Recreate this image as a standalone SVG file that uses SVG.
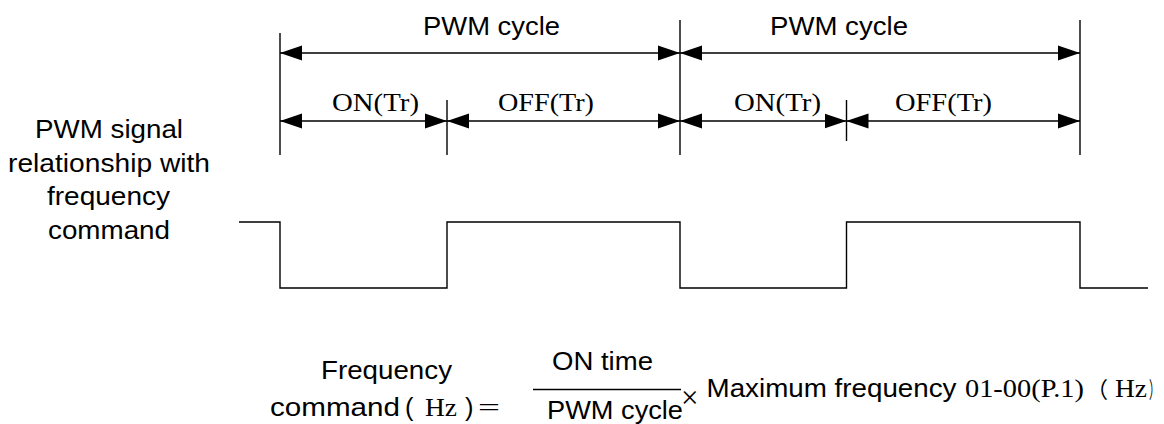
<svg xmlns="http://www.w3.org/2000/svg" width="1164" height="424" viewBox="0 0 1164 424">
<style>
.ln{stroke:#000;stroke-width:1.4;fill:none}
.dim{stroke:#000;stroke-width:1.3;fill:none;marker-start:url(#ah);marker-end:url(#ah)}
.sans{font-family:"Liberation Sans",Arial,sans-serif;font-size:25.5px;fill:#000}
.serif{font-family:"Liberation Serif","Times New Roman",serif;font-size:25.5px;fill:#000}
.cjk{font-family:"Liberation Serif","Noto Sans CJK SC",serif;font-size:22px;fill:#000}
</style>
<defs>
<marker id="ah" viewBox="0 -8 22 16" refX="22" refY="0" markerWidth="22" markerHeight="16" markerUnits="userSpaceOnUse" orient="auto-start-reverse">
<path d="M0,-7.5 L22,0 L0,7.5 Z" fill="#000"/>
</marker>
</defs>
<g id="extension-lines">
<line class="ln" x1="280" y1="33" x2="280" y2="155"/>
<line class="ln" x1="447" y1="100" x2="447" y2="155"/>
<line class="ln" x1="680" y1="20" x2="680" y2="155"/>
<line class="ln" x1="846.5" y1="100" x2="846.5" y2="141"/>
<line class="ln" x1="1080" y1="20" x2="1080" y2="155"/>
</g>
<g id="connectors">
<line class="dim" x1="280" y1="53" x2="680" y2="53"/>
<line class="dim" x1="680" y1="53" x2="1080" y2="53"/>
<line class="dim" x1="280" y1="121" x2="447" y2="121"/>
<line class="dim" x1="447" y1="121" x2="680" y2="121"/>
<line class="dim" x1="680" y1="121" x2="846.5" y2="121"/>
<line class="dim" x1="846.5" y1="121" x2="1080" y2="121"/>
</g>
<g id="dimension-labels">
<text class="sans" x="423" y="35" textLength="137" lengthAdjust="spacingAndGlyphs">PWM cycle</text>
<text class="sans" x="770" y="35" textLength="138" lengthAdjust="spacingAndGlyphs">PWM cycle</text>
<text class="serif" x="332" y="111" textLength="87" lengthAdjust="spacingAndGlyphs">ON(Tr)</text>
<text class="serif" x="498" y="111" textLength="96" lengthAdjust="spacingAndGlyphs">OFF(Tr)</text>
<text class="serif" x="734" y="111" textLength="87" lengthAdjust="spacingAndGlyphs">ON(Tr)</text>
<text class="serif" x="895" y="111" textLength="97" lengthAdjust="spacingAndGlyphs">OFF(Tr)</text>
</g>
<g id="signal-label">
<text class="sans" x="35" y="138" textLength="148" lengthAdjust="spacingAndGlyphs">PWM signal</text>
<text class="sans" x="8" y="172" textLength="202" lengthAdjust="spacingAndGlyphs">relationship with</text>
<text class="sans" x="47" y="205" textLength="123" lengthAdjust="spacingAndGlyphs">frequency</text>
<text class="sans" x="48" y="239" textLength="122" lengthAdjust="spacingAndGlyphs">command</text>
</g>
<g id="pwm-waveform">
<path class="ln" d="M239,222 H280 V288 H447 V222 H680 V288 H846.5 V222 H1080 V288 H1148"/>
</g>
<g id="formula">
<text class="sans" x="321" y="379" textLength="131" lengthAdjust="spacingAndGlyphs">Frequency</text>
<text class="sans" x="270" y="416" textLength="130" lengthAdjust="spacingAndGlyphs">command</text>
<text class="sans" x="405" y="416">(</text>
<text class="serif" x="425" y="416" textLength="32" lengthAdjust="spacingAndGlyphs">Hz</text>
<text class="sans" x="465" y="416">)</text>
<text class="serif" x="478" y="416" textLength="22" lengthAdjust="spacingAndGlyphs">=</text>
<text class="sans" x="552" y="370" textLength="101" lengthAdjust="spacingAndGlyphs">ON time</text>
<line class="ln" x1="533" y1="389.5" x2="681" y2="389.5" style="stroke-width:1.5"/>
<text class="sans" x="547" y="419" textLength="136" lengthAdjust="spacingAndGlyphs">PWM cycle</text>
<text class="serif" x="681" y="408" style="font-size:31px">×</text>
<text class="sans" x="706.5" y="397" textLength="250" lengthAdjust="spacingAndGlyphs">Maximum frequency</text>
<text class="serif" x="965" y="397" textLength="119" lengthAdjust="spacingAndGlyphs">01-00(P.1)</text>
<text class="cjk" x="1086" y="397">（</text>
<text class="serif" x="1115" y="397" textLength="32" lengthAdjust="spacingAndGlyphs">Hz</text>
<text class="cjk" x="1149" y="397" textLength="11" lengthAdjust="spacingAndGlyphs">）</text>
</g>
</svg>
